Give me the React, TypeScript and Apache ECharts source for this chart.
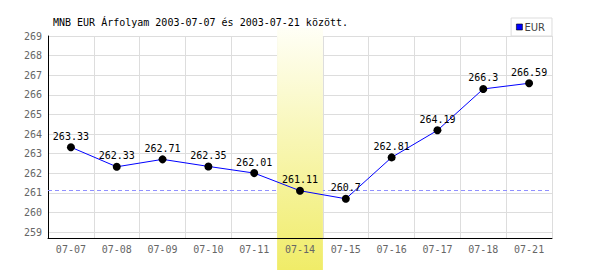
import React, { useEffect, useRef } from 'react';
import * as echarts from 'echarts';

const categories = ['07-07', '07-08', '07-09', '07-10', '07-11', '07-14', '07-15', '07-16', '07-17', '07-18', '07-21'];
const eurValues = [263.33, 262.33, 262.71, 262.35, 262.01, 261.11, 260.7, 262.81, 264.19, 266.3, 266.59];
const highlightCategory = '07-14';
const yMin = 258.7;
const yMax = 269;
const titleText = 'MNB EUR Árfolyam 2003-07-07 és 2003-07-21 között.';
const seriesName = 'EUR';

const MONO = '"DejaVu Sans Mono", "Liberation Mono", monospace';

export default function App() {
  const ref = useRef<HTMLDivElement>(null);
  useEffect(() => {
    document.body.style.margin = '0';
    const chart = echarts.init(ref.current!, null, { renderer: 'svg' });
    const hiIndex = categories.indexOf(highlightCategory);
    const refValue = eurValues[hiIndex];
    chart.setOption({
      animation: false,
      backgroundColor: '#fff',
      title: {
        text: titleText,
        left: 53,
        top: 17,
        padding: 0,
        textStyle: { fontFamily: MONO, fontSize: 10, fontWeight: 'normal', color: '#000' },
      },
      legend: {
        data: [{ name: seriesName, icon: 'rect', itemStyle: { color: '#0000ff', borderColor: '#000', borderWidth: 0.6 } }],
        right: 48,
        top: 18,
        itemWidth: 6,
        itemHeight: 6,
        padding: [4, 7, 4, 5],
        borderColor: '#ddd',
        borderWidth: 1,
        backgroundColor: '#fff',
        textStyle: { color: '#444', fontSize: 10, fontFamily: '"DejaVu Sans", sans-serif', padding: [0, 0, 0, -3] },
      },
      grid: [
        { left: 48, right: 48, top: 36, bottom: 32 },
        { left: 48, right: 48, top: 28, bottom: 0 },
      ],
      xAxis: [
        {
          gridIndex: 0,
          type: 'category',
          data: categories,
          boundaryGap: true,
          axisLine: { show: false },
          axisTick: { show: false },
          axisLabel: { show: false },
          splitLine: { show: true, interval: 0, lineStyle: { color: '#ddd', width: 1 } },
          z: 0,
        },
        {
          gridIndex: 0,
          type: 'category',
          data: categories,
          boundaryGap: true,
          position: 'bottom',
          axisLine: { show: true, lineStyle: { color: '#000', width: 1 } },
          axisTick: { show: false },
          axisLabel: { show: true, interval: 0, color: '#666', fontFamily: MONO, fontSize: 10, margin: 6 },
          splitLine: { show: false },
          z: 4,
        },
        { gridIndex: 1, type: 'category', data: categories, show: false, boundaryGap: true },
      ],
      yAxis: [
        {
          gridIndex: 0,
          type: 'value',
          min: yMin,
          max: yMax,
          splitNumber: 10,
          minInterval: 1,
          maxInterval: 1,
          axisLine: { show: true, lineStyle: { color: '#000', width: 1 } },
          axisTick: { show: false },
          axisLabel: {
            color: '#666',
            fontFamily: MONO,
            fontSize: 10,
            margin: 6,
            formatter: (v: number) => (Math.abs(v - Math.round(v)) < 1e-6 ? String(Math.round(v)) : ''),
          },
          splitLine: { show: true, lineStyle: { color: '#ddd', width: 1 } },
          z: 0,
        },
        { gridIndex: 1, type: 'value', min: 0, max: 1, show: false },
      ],
      series: [
        {
          name: 'band',
          type: 'bar',
          xAxisIndex: 2,
          yAxisIndex: 1,
          barWidth: '100%',
          silent: true,
          z: 2,
          data: categories.map((c) => (c === highlightCategory ? 1 : '-')),
          itemStyle: {
            color: new echarts.graphic.LinearGradient(0, 0, 0, 1, [
              { offset: 0, color: '#fffff6' },
              { offset: 1, color: '#f0ec68' },
            ]),
          },
        },
        {
          name: 'ref',
          type: 'line',
          xAxisIndex: 0,
          yAxisIndex: 0,
          data: [],
          z: 1,
          markLine: {
            silent: true,
            z: 1,
            symbol: 'none',
            label: { show: false },
            lineStyle: { color: '#9090ff', type: [4, 3], width: 1 },
            data: [{ yAxis: refValue }],
          },
        },
        {
          name: seriesName,
          type: 'line',
          xAxisIndex: 0,
          yAxisIndex: 0,
          data: eurValues,
          z: 3,
          symbol: 'circle',
          symbolSize: 8,
          lineStyle: { color: '#0000ff', width: 1 },
          itemStyle: { color: '#000' },
          label: {
            show: true,
            position: 'top',
            distance: 2,
            color: '#000',
            fontFamily: MONO,
            fontSize: 10,
          },
        },
      ],
    });
    return () => chart.dispose();
  }, []);
  return <div ref={ref} style={{ width: 600, height: 270 }} />;
}
